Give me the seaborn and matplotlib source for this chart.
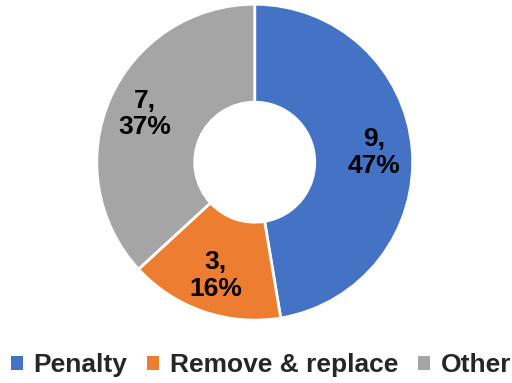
import matplotlib
matplotlib.use("Agg")
import matplotlib.pyplot as plt
import seaborn as sns
from matplotlib.patches import Patch

categories = ["Penalty", "Remove & replace", "Other"]
counts = [9, 3, 7]
colors = ["#4472C4", "#ED7D31", "#A5A5A5"]

sns.set_theme(style="white")
plt.rcParams["font.family"] = ["Liberation Sans", "DejaVu Sans"]

fig = plt.figure(figsize=(5.12, 3.83), dpi=100)
ax = fig.add_axes([0.189, 0.164, 0.617, 0.825])

total = sum(counts)
wedges, texts = ax.pie(
    counts,
    colors=colors,
    startangle=90,
    counterclock=False,
    radius=1.0,
    wedgeprops=dict(width=0.62, edgecolor="white", linewidth=2),
    labels=[f"{c},\n{round(100 * c / total)}%" for c in counts],
    labeldistance=0.76,
    textprops=dict(fontsize=19, fontweight="bold", color="black",
                   ha="center", va="center", linespacing=1.15),
)
for t in texts:
    t.set_horizontalalignment("center")
ax.set_xlim(-1, 1)
ax.set_ylim(-1, 1)
ax.set_aspect("equal")
ax.axis("off")

handles = [Patch(facecolor=c, edgecolor="none") for c in colors]
fig.legend(
    handles, categories,
    loc="center", bbox_to_anchor=(0.51, 0.047),
    ncol=3, frameon=False,
    prop=dict(size=19, weight="bold"),
    handlelength=0.45, handleheight=0.45, handletextpad=0.4,
    columnspacing=0.75,
)

fig.savefig("out.png", dpi=100)
